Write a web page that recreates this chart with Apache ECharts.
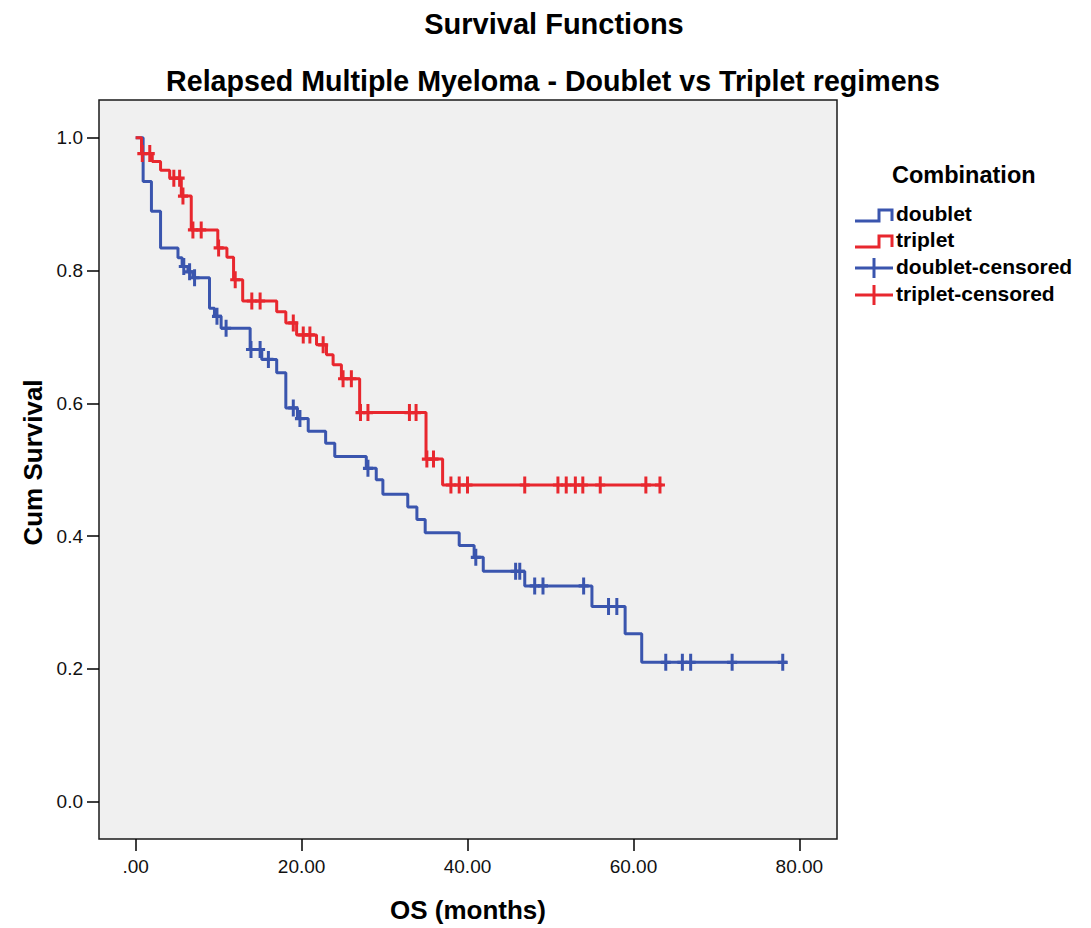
<!DOCTYPE html>
<html>
<head>
<meta charset="utf-8">
<script src="https://cdn.jsdelivr.net/npm/echarts@6/dist/echarts.min.js"></script>
<style>
  html, body { margin: 0; padding: 0; background: #ffffff; }
  #chart { width: 1091px; height: 928px; }
</style>
</head>
<body>
<div id="chart"></div>
<script>
// Kaplan-Meier estimates: [time in months, cumulative survival after the event]
const doubletSteps = [
  [0, 1], [0.9, 0.934], [1.9, 0.889], [3.0, 0.834], [5.1, 0.819], [5.6, 0.806],
  [6.3, 0.798], [6.9, 0.789], [8.9, 0.743], [9.5, 0.731], [10.3, 0.713], [13.8, 0.681],
  [15.2, 0.666], [17.0, 0.646], [18.1, 0.593], [19.5, 0.577], [20.8, 0.558], [22.9, 0.540],
  [24.0, 0.520], [27.8, 0.502], [29.0, 0.485], [29.8, 0.463], [32.8, 0.444], [33.9, 0.425],
  [34.9, 0.405], [39.0, 0.386], [40.8, 0.368], [41.9, 0.347], [46.9, 0.325], [55.0, 0.294],
  [59.0, 0.253], [61.0, 0.210]
];
const doubletLastFollowUp = 78.5;
const doubletCensoredTimes = [
  5.8, 6.5, 7.1, 9.8, 10.9, 13.9, 15.0, 16.0, 19.0, 19.8, 28.0, 41.0, 45.8, 46.3,
  48.1, 49.1, 54.0, 57.0, 58.0, 63.9, 65.9, 66.9, 71.9, 78.0
];

const tripletSteps = [
  [0, 1], [0.7, 0.976], [2.0, 0.964], [3.0, 0.951], [4.1, 0.939], [5.5, 0.912],
  [6.7, 0.861], [9.9, 0.834], [11.0, 0.820], [11.8, 0.786], [12.9, 0.754], [17.0, 0.738],
  [18.1, 0.721], [19.4, 0.703], [21.8, 0.688], [23.0, 0.673], [23.8, 0.658], [24.8, 0.637],
  [27.0, 0.586], [35.0, 0.516], [37.0, 0.477]
];
const tripletLastFollowUp = 63.5;
const tripletCensoredTimes = [
  0.8, 1.7, 4.6, 5.3, 5.7, 6.9, 7.9, 10.0, 12.0, 14.0, 15.0, 19.0, 20.2, 21.0, 22.6,
  25.0, 26.0, 27.1, 28.0, 33.0, 33.8, 35.1, 35.9, 38.0, 39.0, 40.0, 46.9, 50.9, 51.9,
  53.0, 53.9, 56.0, 61.5, 63.2
];

const xTickValues = [0, 20, 40, 60, 80];
const yTickValues = [0, 0.2, 0.4, 0.6, 0.8, 1.0];

const groupNames = ['doublet', 'triplet', 'doublet-censored', 'triplet-censored'];
const chartTitle = 'Survival Functions';
const chartSubtitle = 'Relapsed Multiple Myeloma - Doublet vs Triplet regimens';
const legendTitle = 'Combination';

const BLUE = '#3a55ae';
const RED = '#e8272e';
const FONT = 'Arial, "Liberation Sans", sans-serif';
const PLUS = 'path://M3.5,0H6.5V6.5H10V9.5H6.5V16H3.5V9.5H0V6.5H3.5Z';

// step curve continues flat to the last follow-up time
function stepData(steps, end) {
  return steps.concat([[end, steps[steps.length - 1][1]]]);
}
// survival level of the curve at time t
function levelAt(steps, t) {
  let s = 1;
  for (const [ti, si] of steps) { if (ti <= t) s = si; }
  return s;
}
function censorData(steps, times) {
  return times.map(t => [t, levelAt(steps, t)]);
}

const chart = echarts.init(document.getElementById('chart'), null, { renderer: 'svg', width: 1091, height: 928 });

// legend glyphs on the right side
const lx = 855;
const legendRows = [215, 241, 268, 295];
const legendGraphics = [
  { type: 'text', left: 892, top: 163, style: { text: legendTitle, font: 'bold 23.5px ' + FONT, fill: '#000' } },
  { type: 'polyline', shape: { points: [[lx, legendRows[0] + 6], [lx + 24, legendRows[0] + 6], [lx + 24, legendRows[0] - 5], [lx + 37, legendRows[0] - 5], [lx + 37, legendRows[0] + 6]] }, style: { stroke: BLUE, lineWidth: 3, fill: null } },
  { type: 'polyline', shape: { points: [[lx, legendRows[1] + 6], [lx + 24, legendRows[1] + 6], [lx + 24, legendRows[1] - 5], [lx + 37, legendRows[1] - 5], [lx + 37, legendRows[1] + 6]] }, style: { stroke: RED, lineWidth: 3, fill: null } },
  { type: 'line', shape: { x1: lx, y1: legendRows[2], x2: lx + 38, y2: legendRows[2] }, style: { stroke: BLUE, lineWidth: 3 } },
  { type: 'line', shape: { x1: lx + 19, y1: legendRows[2] - 10, x2: lx + 19, y2: legendRows[2] + 10 }, style: { stroke: BLUE, lineWidth: 3 } },
  { type: 'line', shape: { x1: lx, y1: legendRows[3], x2: lx + 38, y2: legendRows[3] }, style: { stroke: RED, lineWidth: 3 } },
  { type: 'line', shape: { x1: lx + 19, y1: legendRows[3] - 10, x2: lx + 19, y2: legendRows[3] + 10 }, style: { stroke: RED, lineWidth: 3 } }
];
groupNames.forEach((name, i) => {
  legendGraphics.push({
    type: 'text', left: 896, top: legendRows[i] - 12,
    style: { text: name, font: 'bold 21px ' + FONT, fill: '#000' }
  });
});

chart.setOption({
  animation: false,
  backgroundColor: '#ffffff',
  title: [
    { text: chartTitle, left: 549, top: 4, textAlign: 'center', textStyle: { fontFamily: FONT, fontSize: 29, fontWeight: 'bold', color: '#000' } },
    { text: chartSubtitle, left: 548, top: 61, textAlign: 'center', textStyle: { fontFamily: FONT, fontSize: 28.6, fontWeight: 'bold', color: '#000' } }
  ],
  graphic: legendGraphics,
  grid: {
    left: 99, top: 100, width: 738, height: 740,
    show: true, backgroundColor: '#f0f0f0', borderColor: '#1a1a1a', borderWidth: 1.5,
    containLabel: false
  },
  xAxis: {
    type: 'value', min: -4.42, max: 84.54,
    name: 'OS (months)', nameLocation: 'middle', nameGap: 58,
    nameTextStyle: { fontFamily: FONT, fontSize: 26, fontWeight: 'bold', color: '#000' },
    axisLine: { show: false, onZero: false },
    splitLine: { show: false },
    axisTick: { show: true, customValues: xTickValues, length: 12, lineStyle: { color: '#000', width: 1.5 } },
    axisLabel: {
      customValues: xTickValues, margin: 18, fontFamily: FONT, fontSize: 19, color: '#111',
      formatter: v => (v === 0 ? '.00' : v.toFixed(2))
    }
  },
  yAxis: {
    type: 'value', min: -0.0561, max: 1.0567,
    name: 'Cum Survival', nameLocation: 'middle', nameGap: 52, nameRotate: 90,
    nameTextStyle: { fontFamily: FONT, fontSize: 26, fontWeight: 'bold', color: '#000', padding: [0, 0, 0, 14] },
    axisLine: { show: false, onZero: false },
    splitLine: { show: false },
    axisTick: { show: true, customValues: yTickValues, length: 12, lineStyle: { color: '#000', width: 1.5 } },
    axisLabel: {
      customValues: yTickValues, margin: 16, fontFamily: FONT, fontSize: 19, color: '#111',
      formatter: v => v.toFixed(1)
    }
  },
  series: [
    {
      name: groupNames[0], type: 'line', step: 'end', showSymbol: false, symbol: 'none',
      data: stepData(doubletSteps, doubletLastFollowUp),
      lineStyle: { color: BLUE, width: 3 }, z: 2
    },
    {
      name: groupNames[1], type: 'line', step: 'end', showSymbol: false, symbol: 'none',
      data: stepData(tripletSteps, tripletLastFollowUp),
      lineStyle: { color: RED, width: 3 }, z: 3
    },
    {
      name: groupNames[2], type: 'scatter', symbol: PLUS, symbolSize: [10, 17],
      data: censorData(doubletSteps, doubletCensoredTimes),
      itemStyle: { color: BLUE, opacity: 1 }, z: 4
    },
    {
      name: groupNames[3], type: 'scatter', symbol: PLUS, symbolSize: [10, 17],
      data: censorData(tripletSteps, tripletCensoredTimes),
      itemStyle: { color: RED, opacity: 1 }, z: 5
    }
  ]
});
</script>
</body>
</html>
